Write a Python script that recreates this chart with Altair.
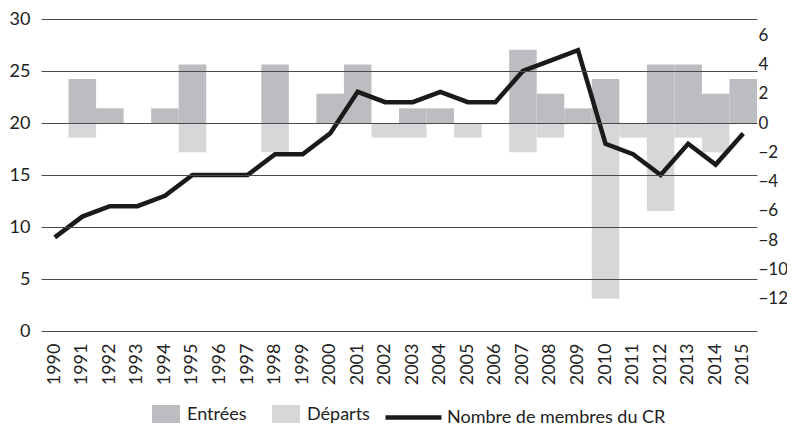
import altair as alt
import pandas as pd

years = list(range(1990, 2016))
entrees = [0, 3, 1, 0, 1, 4, 0, 0, 4, 0, 2, 4, 0, 1, 1, 0, 0, 5, 2, 1, 3, 0, 4, 4, 2, 3]
departs = [0, -1, 0, 0, 0, -2, 0, 0, -2, 0, 0, 0, -1, -1, 0, -1, 0, -2, -1, 0, -12, -1, -6, -1, -2, 0]
membres = [9, 11, 12, 12, 13, 15, 15, 15, 17, 17, 19, 23, 22, 22, 23, 22, 22, 25, 26, 27, 18, 17, 15, 18, 16, 19]

bar_names = ["Entrées", "Départs"]
bar_colors = ["#bcbdc1", "#d6d7d9"]
line_name = "Nombre de membres du CR"
line_color = "#1a1a1a"

bars_df = pd.DataFrame(
    {"year": years * 2,
     "value": entrees + departs,
     "serie": ["Entrées"] * len(years) + ["Départs"] * len(years)}
)
line_df = pd.DataFrame({"year": years, "value": membres, "serie": line_name})

FONT = "Lato"
TXT = "#222"
FS = 18

x_enc = alt.X(
    "year:O",
    scale=alt.Scale(paddingInner=0, paddingOuter=0),
    axis=alt.Axis(title=None, labelAngle=-90, labelFontSize=FS, labelFont=FONT, labelColor=TXT,
                  ticks=False, domain=False, labelPadding=12),
)

bars = alt.Chart(bars_df).mark_bar(opacity=1).encode(
    x=x_enc,
    y=alt.Y("value:Q", scale=alt.Scale(domain=[-14.2, 7.1], nice=False, zero=False),
            axis=alt.Axis(orient="right", values=list(range(-12, 7, 2)), grid=False, domain=False,
                          ticks=False, title=None, labelFontSize=17, labelFont=FONT,
                          labelColor=TXT, labelPadding=1)),
    color=alt.Color("serie:N", scale=alt.Scale(domain=bar_names, range=bar_colors),
                    legend=alt.Legend(orient="none", legendX=111, legendY=382, direction="horizontal",
                                      title=None, symbolType="M-1,-0.714H1V0.714H-1Z", symbolSize=784,
                                      symbolStrokeWidth=0, symbolOpacity=1, labelFontSize=FS,
                                      labelFont=FONT, labelColor=TXT, labelOffset=7, columnPadding=25)),
)

line = alt.Chart(line_df).mark_line(strokeWidth=4.5, strokeJoin="miter").encode(
    x=x_enc,
    y=alt.Y("value:Q", scale=alt.Scale(domain=[0, 30], nice=False),
            axis=alt.Axis(orient="left", values=list(range(0, 31, 5)), grid=True, gridColor="#4a4a4a",
                          gridWidth=1.2, domain=False, ticks=False, title=None, labelFontSize=FS,
                          labelFont=FONT, labelColor=TXT, labelPadding=11, zindex=1)),
    stroke=alt.Stroke("serie:N", scale=alt.Scale(domain=[line_name], range=[line_color]),
                      legend=alt.Legend(orient="none", legendX=356, legendY=382, title=None,
                                        symbolType="M-2,0H2", symbolSize=784, symbolStrokeWidth=4.5,
                                        symbolOpacity=1, labelLimit=400,
                                        labelFontSize=FS, labelFont=FONT, labelColor=TXT, labelOffset=17)),
)

chart = alt.layer(bars, line).resolve_scale(y="independent").properties(
    width=716, height=312,
    autosize=alt.AutoSizeParams(type="none"),
    padding={"left": 33, "top": 11, "right": 30, "bottom": 92},
).configure_view(stroke=None)

chart.save("out.html", embed_options={"renderer": "svg", "actions": False})
